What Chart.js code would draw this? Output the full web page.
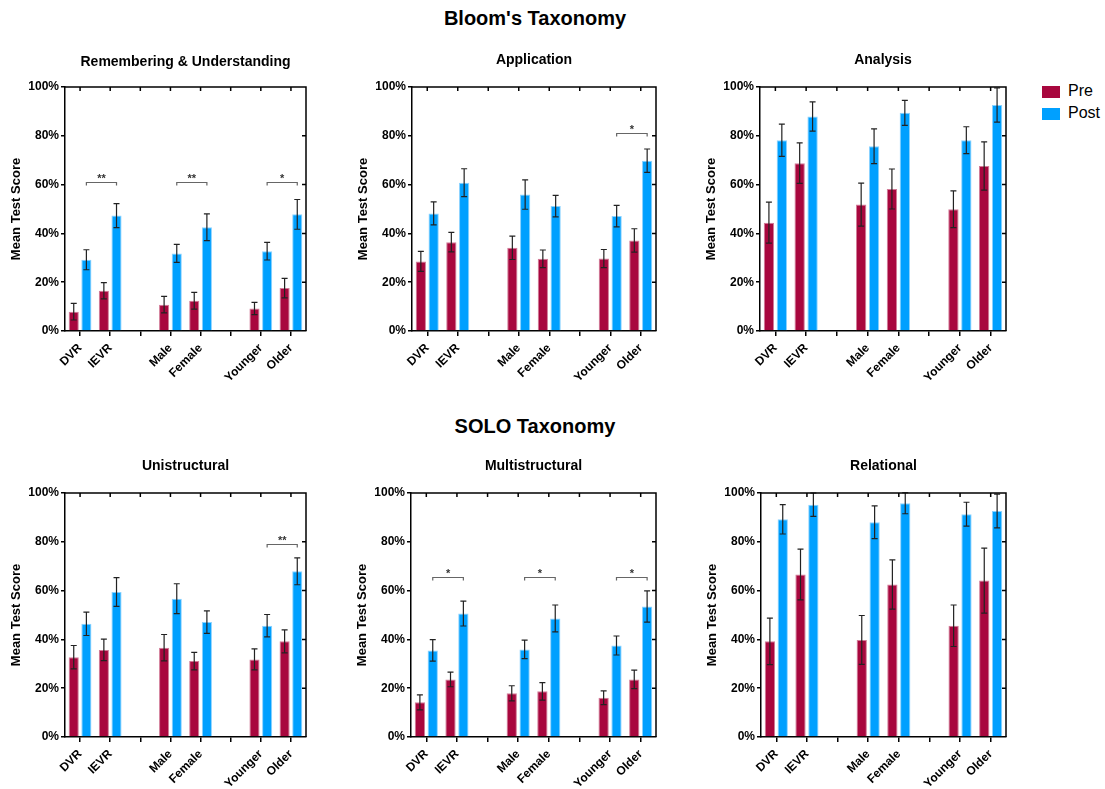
<!DOCTYPE html>
<html>
<head>
<meta charset="utf-8">
<script src="https://cdn.jsdelivr.net/npm/chart.js@4"></script>
<style>
  body { margin: 0; background: #fff; font-family: "Liberation Sans", Arial, sans-serif; }
  #wrap { position: relative; width: 1105px; height: 789px; }
  canvas { position: absolute; }
  .main-title { position: absolute; width: 400px; text-align: center; font-weight: bold; font-size: 20px; color: #000; }
  .leg { position: absolute; font-size: 16px; color: #000; }
  .sw { position: absolute; width: 18px; height: 12px; }
</style>
</head>
<body>
<div id="wrap">
  <div class="main-title" style="left:335px; top:7px;">Bloom's Taxonomy</div>
  <div class="main-title" style="left:335px; top:415px;">SOLO Taxonomy</div>
  <div class="sw" style="left:1042px; top:86px; background:#A8073E;"></div>
  <div class="leg" style="left:1068px; top:82px;">Pre</div>
  <div class="sw" style="left:1042px; top:108px; background:#00A0FF;"></div>
  <div class="leg" style="left:1068px; top:104px;">Post</div>
</div>
<script>
const categories = ['DVR', 'IEVR', '', 'Male', 'Female', '', 'Younger', 'Older']
const yTicks = [0, 20, 40, 60, 80, 100]

// Bloom's
const rememberPre = [7.9, 16.5, null, 10.8, 12.4, null, 9.2, 17.6]
const rememberPost = [29.2, 47.3, null, 31.8, 42.5, null, 32.7, 47.8]
const rememberPreErr = [3.4, 3.3, null, 3.4, 3.4, null, 2.5, 4.0]
const rememberPostErr = [4.1, 4.9, null, 3.7, 5.5, null, 3.6, 6.1]
const rememberSig = [[0, 1, 61, '**'], [3, 4, 61, '**'], [6, 7, 61, '*']]

const applicationPre = [28.5, 36.4, null, 34.1, 29.6, null, 29.7, 37.1]
const applicationPost = [48.2, 60.8, null, 55.9, 51.2, null, 47.1, 69.8]
const applicationPreErr = [4.1, 4.0, null, 4.8, 3.6, null, 3.7, 4.8]
const applicationPostErr = [4.7, 5.7, null, 6.0, 4.4, null, 4.4, 4.8]
const applicationSig = [[6, 7, 81, '*']]

const analysisPre = [44.4, 68.8, null, 51.8, 58.2, null, 49.9, 67.6]
const analysisPost = [78.2, 87.9, null, 75.7, 89.4, null, 78.2, 92.6]
const analysisPreErr = [8.4, 8.3, null, 8.8, 8.2, null, 7.5, 9.9]
const analysisPostErr = [6.6, 6.0, null, 7.1, 5.1, null, 5.5, 7.0]
const analysisSig = []

// SOLO
const uniPre = [32.7, 35.7, null, 36.6, 31.1, null, 31.8, 39.2]
const uniPost = [46.4, 59.4, null, 56.7, 47.1, null, 45.6, 67.9]
const uniPreErr = [4.8, 4.4, null, 5.4, 3.6, null, 4.3, 4.7]
const uniPostErr = [4.8, 5.9, null, 6.1, 4.6, null, 4.6, 5.5]
const uniSig = [[6, 7, 79.2, '**']]

const multiPre = [14.2, 23.6, null, 17.9, 18.7, null, 16.1, 23.6]
const multiPost = [35.5, 50.6, null, 35.9, 48.6, null, 37.5, 53.5]
const multiPreErr = [3.1, 3.0, null, 3.1, 3.6, null, 2.8, 3.8]
const multiPostErr = [4.4, 5.1, null, 3.8, 5.5, null, 3.9, 6.4]
const multiSig = [[0, 1, 65.5, '*'], [3, 4, 65.5, '*'], [6, 7, 65.5, '*']]

const relPre = [39.2, 66.6, null, 39.8, 62.5, null, 45.6, 64.1]
const relPost = [89.2, 95.2, null, 88.0, 95.8, null, 91.3, 92.6]
const relPreErr = [9.5, 10.4, null, 10.0, 10.1, null, 8.5, 13.3]
const relPostErr = [6.0, 4.8, null, 6.7, 4.3, null, 4.9, 6.9]
const relSig = []

const FONT = '"Liberation Sans", Arial, sans-serif'
const PRE_COLOR = '#A8073E'
const POST_COLOR = '#00A0FF'

// error bars, significance brackets, mirrored ticks and panel title
const extras = {
    id: 'extras',
    afterDatasetsDraw(chart, args, opts) {
        const ctx = chart.ctx
        const area = chart.chartArea
        const y = chart.scales.y
        const x = chart.scales.x

        ctx.save()
        ctx.beginPath()
        ctx.rect(area.left, area.top - 1, area.right - area.left, area.bottom - area.top + 1)
        ctx.clip()
        ctx.strokeStyle = '#222'
        ctx.lineWidth = 1.2
        opts.errors.forEach((errs, d) => {
            const meta = chart.getDatasetMeta(d)
            const vals = chart.data.datasets[d].data
            errs.forEach((e, i) => {
                if (e === null || vals[i] === null) return
                const bx = meta.data[i].x
                const hi = y.getPixelForValue(vals[i] + e)
                const lo = y.getPixelForValue(vals[i] - e)
                ctx.beginPath()
                ctx.moveTo(bx, hi); ctx.lineTo(bx, lo)
                ctx.moveTo(bx - 3, hi); ctx.lineTo(bx + 3, hi)
                ctx.moveTo(bx - 3, lo); ctx.lineTo(bx + 3, lo)
                ctx.stroke()
            })
        })
        ctx.restore()

        // brackets
        const post = chart.getDatasetMeta(1)
        ctx.save()
        ctx.strokeStyle = '#666'
        ctx.lineWidth = 1.2
        ctx.fillStyle = '#333'
        ctx.font = 'bold 11px ' + FONT
        ctx.textAlign = 'center'
        opts.sig.forEach(s => {
            const x1 = post.data[s[0]].x
            const x2 = post.data[s[1]].x
            const by = Math.round(y.getPixelForValue(s[2])) + 0.5
            ctx.beginPath()
            ctx.moveTo(x1, by + 3); ctx.lineTo(x1, by); ctx.lineTo(x2, by); ctx.lineTo(x2, by + 3)
            ctx.stroke()
            ctx.fillText(s[3], (x1 + x2) / 2, by - 1)
        })
        ctx.restore()

        // frame top/right with inward ticks
        ctx.save()
        ctx.strokeStyle = '#000'
        ctx.lineWidth = 1.5
        ctx.beginPath()
        ctx.moveTo(area.left, area.top); ctx.lineTo(area.right, area.top); ctx.lineTo(area.right, area.bottom)
        x.ticks.forEach((t, i) => {
            const px = x.getPixelForTick(i)
            ctx.moveTo(px, area.top); ctx.lineTo(px, area.top + 4)
        })
        yTicks.slice(1, -1).forEach(v => {
            const py = y.getPixelForValue(v)
            ctx.moveTo(area.right, py); ctx.lineTo(area.right - 4, py)
        })
        ctx.stroke()

        ctx.fillStyle = '#000'
        ctx.font = 'bold 14px ' + FONT
        ctx.textAlign = 'center'
        ctx.textBaseline = 'middle'
        ctx.fillText(opts.title, (area.left + area.right) / 2, opts.titleY)
        ctx.restore()
    }
}

function makePanel(box, title, titleY, pre, post, preErr, postErr, sig) {
    const padTop = 40, padRight = 15, yW = 65, xH = 60
    const canvas = document.createElement('canvas')
    const w = box[1] - box[0] + yW + padRight
    const h = box[3] - box[2] + padTop + xH
    canvas.width = w
    canvas.height = h
    canvas.style.left = (box[0] - yW) + 'px'
    canvas.style.top = (box[2] - padTop) + 'px'
    canvas.style.width = w + 'px'
    canvas.style.height = h + 'px'
    document.getElementById('wrap').appendChild(canvas)

    new Chart(canvas, {
        type: 'bar',
        data: {
            labels: categories,
            datasets: [
                { label: 'Pre', data: pre, backgroundColor: PRE_COLOR, borderColor: '#D27C98', borderWidth: 1 },
                { label: 'Post', data: post, backgroundColor: POST_COLOR, borderColor: '#8AD2FF', borderWidth: 1 }
            ]
        },
        options: {
            responsive: false,
            animation: false,
            events: [],
            categoryPercentage: 0.84,
            barPercentage: 0.8,
            layout: { padding: { top: padTop, right: padRight, left: 0, bottom: 0 } },
            plugins: {
                legend: { display: false },
                tooltip: { enabled: false },
                extras: { errors: [preErr, postErr], sig: sig, title: title, titleY: titleY }
            },
            scales: {
                x: {
                    afterFit: s => { s.height = xH },
                    grid: { display: true, drawOnChartArea: false, offset: false, tickLength: 5, color: '#000', lineWidth: 1.5 },
                    border: { display: true, color: '#000', width: 1.5 },
                    ticks: {
                        autoSkip: false, maxRotation: 45, minRotation: 45, padding: 5,
                        color: '#000', font: { family: FONT, size: 12, weight: 'bold' }
                    }
                },
                y: {
                    min: 0, max: 100,
                    afterFit: s => { s.width = yW },
                    afterBuildTicks: s => { s.ticks = yTicks.map(v => ({ value: v })) },
                    grid: { display: true, drawOnChartArea: false, tickLength: 4, color: '#000', lineWidth: 1.5 },
                    border: { display: true, color: '#000', width: 1.5 },
                    ticks: {
                        padding: 2, color: '#000',
                        font: { family: FONT, size: 12, weight: 'bold' },
                        callback: v => v + '%'
                    },
                    title: {
                        display: true, text: 'Mean Test Score', color: '#000',
                        padding: { top: 9, bottom: 0 },
                        font: { family: FONT, size: 13, weight: 'bold' }
                    }
                }
            }
        },
        plugins: [extras]
    })
}

makePanel([65, 306, 87, 331], 'Remembering & Understanding', 15, rememberPre, rememberPost, rememberPreErr, rememberPostErr, rememberSig)
makePanel([412, 656, 87, 331], 'Application', 13, applicationPre, applicationPost, applicationPreErr, applicationPostErr, applicationSig)
makePanel([760, 1006, 87, 331], 'Analysis', 13, analysisPre, analysisPost, analysisPreErr, analysisPostErr, analysisSig)
makePanel([65, 306, 493, 737], 'Unistructural', 13, uniPre, uniPost, uniPreErr, uniPostErr, uniSig)
makePanel([411, 656, 493, 737], 'Multistructural', 13, multiPre, multiPost, multiPreErr, multiPostErr, multiSig)
makePanel([761, 1006, 493, 737], 'Relational', 13, relPre, relPost, relPreErr, relPostErr, relSig)
</script>
</body>
</html>
